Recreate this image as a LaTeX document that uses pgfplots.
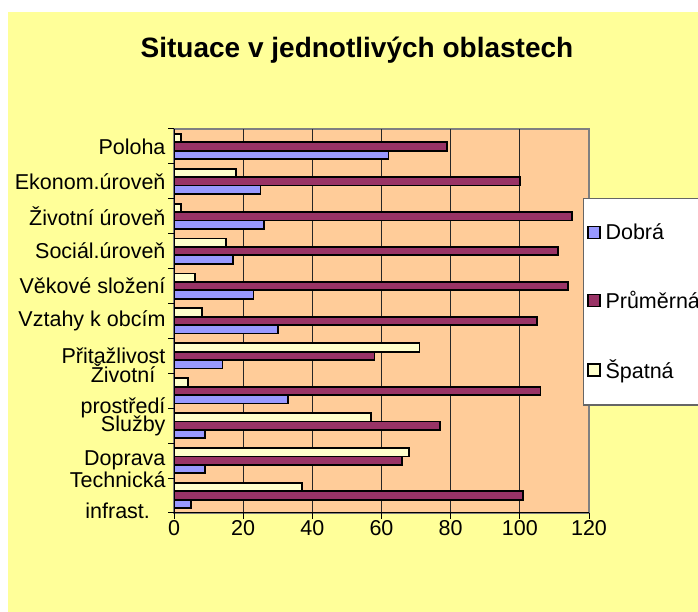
\documentclass[border=0pt]{standalone}
\usepackage{fontspec}
\setmainfont{Liberation Sans}
\usepackage{pgfplots}
\pgfplotsset{compat=1.18}
\definecolor{chartbg}{HTML}{FFFF99}
\definecolor{plotbg}{HTML}{FFCC99}
\definecolor{dobra}{HTML}{9999FF}
\definecolor{prumerna}{HTML}{993366}
\definecolor{spatna}{HTML}{FFFFCC}

\begin{document}
\begin{tikzpicture}
\fill[white] (0,0) rectangle (698pt,612pt);
\fill[chartbg] (8pt,0) rectangle (698pt,600pt);
\node[anchor=base, font=\fontsize{28}{33}\selectfont\bfseries] at (357pt,554pt) {Situace v jednotlivých oblastech};
\begin{axis}[
  at={(174pt,99pt)}, anchor=south west,
  scale only axis, width=415pt, height=384pt,
  xbar=0pt, bar width=8.4pt,
  xmin=0, xmax=120, ymin=-0.5, ymax=10.5,
  axis x line=bottom, axis y line=left,
  axis line style={-, black, line width=1pt},
  axis background/.style={fill=plotbg, draw=black!50, line width=2pt},
  xtick={20,40,60,80,100},
  extra x ticks={0,120}, extra x tick style={grid=none},
  minor xtick={0,20,...,120},
  xmajorgrids, grid style={black!85, line width=0.9pt},
  ytick={0,...,10},
  minor ytick={-0.5,0.5,...,10.5},
  yticklabels={{Technická\\infrast.},Doprava,Služby,{Životní\\prostředí},Přitažlivost,Vztahy k obcím,Věkové složení,Sociál.úroveň,Životní úroveň,Ekonom.úroveň,Poloha},
  tick align=outside, major tick length=0pt, minor tick length=6pt,
  tick style={black, line width=1pt},
  /pgf/number format/assume math mode=true,
  tick label style={font=\fontsize{21.5}{26}\selectfont},
  xticklabel style={inner sep=0pt, yshift=-7pt},
  yticklabel style={align=center, font=\fontsize{21.5}{31}\selectfont, xshift=-5pt},
  legend style={at={(0.9855,0.8203)}, anchor=north west, fill=white, draw=black!60,
    line width=1.5pt, font=\fontsize{21.5}{26}\selectfont,
    inner xsep=3pt, inner ysep=23pt, row sep=46pt, column sep=3pt},
  legend cell align=left,
  legend image code/.code={\draw[#1, line width=1.8pt] (0pt,-6pt) rectangle (12pt,6pt);},
]
\addplot[fill=dobra, draw=black, line width=1.8pt] coordinates {
  (5,0) (9,1) (9,2) (33,3) (14,4) (30,5) (23,6) (17,7) (26,8) (25,9) (62,10)};
\addplot[fill=prumerna, draw=black, line width=1.8pt] coordinates {
  (101,0) (66,1) (77,2) (106,3) (58,4) (105,5) (114,6) (111,7) (115,8) (100,9) (79,10)};
\addplot[fill=spatna, draw=black, line width=1.8pt] coordinates {
  (37,0) (68,1) (57,2) (4,3) (71,4) (8,5) (6,6) (15,7) (2,8) (18,9) (2,10)};
\legend{Dobrá,Průměrná,Špatná}
\end{axis}
\pgfresetboundingbox
\useasboundingbox (0,0) rectangle (698pt,612pt);
\end{tikzpicture}
\end{document}
